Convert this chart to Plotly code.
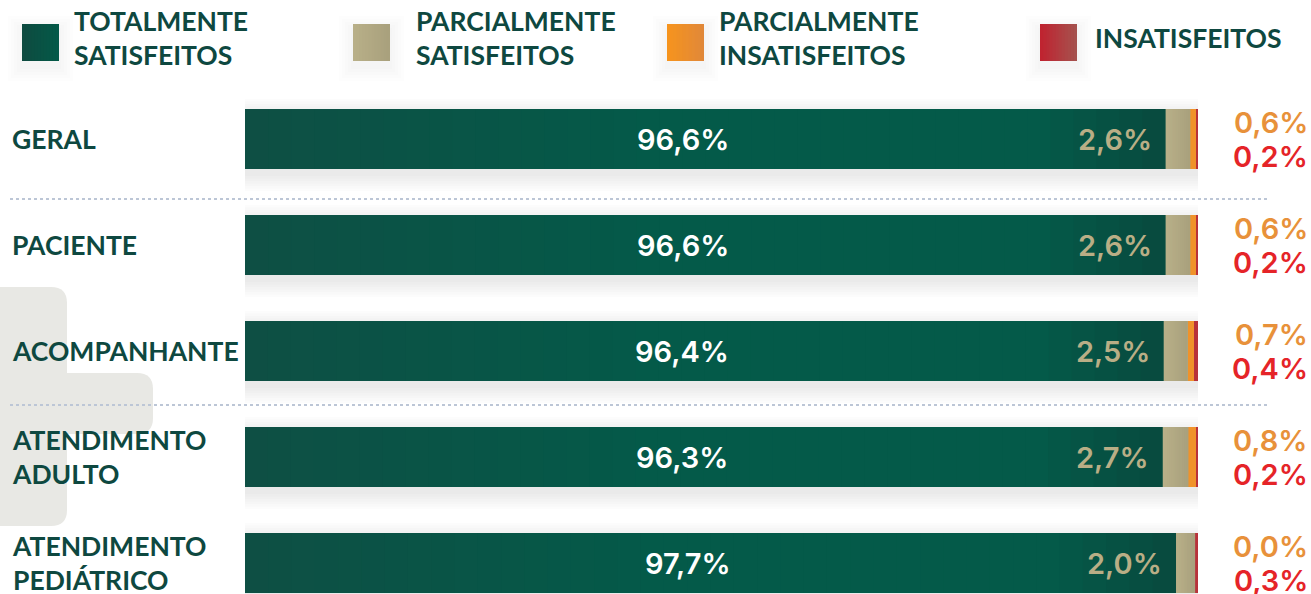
import plotly.graph_objects as go

categories = ["GERAL", "PACIENTE", "ACOMPANHANTE", "ATENDIMENTO<br>ADULTO", "ATENDIMENTO<br>PEDIÁTRICO"]
totalmente = [96.6, 96.6, 96.4, 96.3, 97.7]
parcial_sat = [2.6, 2.6, 2.5, 2.7, 2.0]
parcial_insat = [0.6, 0.6, 0.7, 0.8, 0.0]
insatisfeitos = [0.2, 0.2, 0.4, 0.2, 0.3]
legend_labels = ["TOTALMENTE<br>SATISFEITOS", "PARCIALMENTE<br>SATISFEITOS",
                 "PARCIALMENTE<br>INSATISFEITOS", "INSATISFEITOS"]

W, H = 1311, 594
X0, X1 = 245, 1198
ROW0, STEP = 139, 106
BAR_H = 60

C_GREEN = "#075546"
C_TAN = "#b1a882"
C_ORANGE = "#f0922a"
C_RED = "#b8323a"
TXT = "#0e4840"

G_GREEN = [(0, (14, 79, 68)), (0.45, (4, 90, 73)), (0.86, (4, 90, 73)), (1, (8, 74, 62))]
G_GREEN_LEG = [(0, (14, 74, 64)), (1, (4, 90, 72))]
G_TAN = [(0, (185, 176, 137)), (1, (168, 160, 124))]
G_ORANGE = [(0, (247, 148, 29)), (1, (224, 136, 58))]
G_RED = [(0, (192, 34, 47)), (1, (165, 83, 79))]

def fmt(v):
    return f"{v:.1f}".replace(".", ",") + "%"

def interp(stops, t):
    for (t0, c0), (t1, c1) in zip(stops[:-1], stops[1:]):
        if t0 <= t <= t1:
            f = 0 if t1 == t0 else (t - t0) / (t1 - t0)
            return "rgb(%d,%d,%d)" % tuple(round(a + (b - a) * f) for a, b in zip(c0, c1))
    return "rgb(%d,%d,%d)" % stops[-1][1]

def grad_rect(x0, x1, y0, y1, stops, n, xref, yref, layer="above"):
    out = []
    dx = (x1 - x0) / n
    for k in range(n):
        a = x0 + k * dx
        b = x0 + (k + 1) * dx
        out.append(dict(type="rect", xref=xref, yref=yref, x0=a, x1=min(b + dx * 0.6, x1),
                        y0=y0, y1=y1, fillcolor=interp(stops, (k + 0.5) / n),
                        line=dict(width=0), layer=layer))
    return out

pos = list(range(len(categories)))
bw = BAR_H / STEP

fig = go.Figure()
series = [(totalmente, C_GREEN), (parcial_sat, C_TAN), (parcial_insat, C_ORANGE), (insatisfeitos, C_RED)]
for vals, col in series:
    fig.add_trace(go.Bar(x=vals, y=pos, orientation="h", width=bw,
                         marker=dict(color=col, line=dict(width=0)),
                         hoverinfo="skip", showlegend=False))

shapes = []
def rrect(x0, y0, x1, y1, rx, ry):
    return (f"M{x0+rx},{y0} L{x1-rx},{y0} Q{x1},{y0} {x1},{y0+ry} L{x1},{y1-ry} Q{x1},{y1} {x1-rx},{y1} "
            f"L{x0+rx},{y1} Q{x0},{y1} {x0},{y1-ry} L{x0},{y0+ry} Q{x0},{y0} {x0+rx},{y0} Z")
def px2paper(x, y):
    return x / W, 1 - y / H
for (a, b, c, d) in [(-20, 287, 67, 526), (-20, 373, 153, 434)]:
    xa, ya = px2paper(a, b)
    xb, yb = px2paper(c, d)
    shapes.append(dict(type="path", xref="paper", yref="paper",
                       path=rrect(xa, yb, xb, ya, 16 / W, 16 / H),
                       fillcolor="#e8e8e4", line=dict(width=0), layer="below"))

# soft bar shadows
sx = 100 / (X1 - X0)
sy = 1 / STEP
for i in pos:
    for k in range(7):
        e = 1 + k * 2.5
        shapes.append(dict(type="rect", xref="x", yref="y",
                           x0=-e * sx, x1=100 + e * sx,
                           y0=i - bw / 2 - e * sy + 6 * sy, y1=i + bw / 2 + e * sy + 6 * sy,
                           fillcolor="rgba(40,50,60,0.016)", line=dict(width=0), layer="below"))
    # gradient fills over the stacked segments
    y0, y1 = i - bw / 2, i + bw / 2
    g = totalmente[i]
    shapes += grad_rect(0, g, y0, y1, G_GREEN, 40, "x", "y")
    shapes += grad_rect(g, g + parcial_sat[i], y0, y1, G_TAN, 12, "x", "y")

# separator lines (pixel rows)
for sep_px in [199, 405]:
    yy = 1 - sep_px / H
    shapes.append(dict(type="line", xref="paper", yref="paper", x0=10 / W, x1=1268 / W,
                       y0=yy, y1=yy, line=dict(color="#bcc6d6", width=2, dash="dot"), layer="below"))

annotations = []
num_font = "Inter, Montserrat, Open Sans, sans-serif"
lab_font = "Lato, sans-serif"
for i in pos:
    annotations.append(dict(x=10 / W, xref="paper", y=i, yref="y", text=f"<b>{categories[i]}</b>",
                            xanchor="left", yanchor="middle", align="left", showarrow=False,
                            font=dict(family=lab_font, size=26.5, color=TXT, weight=900)))
    annotations.append(dict(x=totalmente[i] * 0.476, y=i, text=fmt(totalmente[i]), showarrow=False,
                            xanchor="center", yanchor="middle",
                            font=dict(family=num_font, size=29, color="white", weight=600)))
    annotations.append(dict(x=totalmente[i], y=i, text=fmt(parcial_sat[i]), showarrow=False,
                            xanchor="right", yanchor="middle", xshift=-12,
                            font=dict(family=num_font, size=29, color="#b9ae86", weight=600)))
    annotations.append(dict(x=1310 / W, xref="paper", y=i, yref="y", text=fmt(parcial_insat[i]),
                            showarrow=False, xanchor="right", yanchor="middle", yshift=17,
                            font=dict(family=num_font, size=29, color="#e8913a", weight=600)))
    annotations.append(dict(x=1310 / W, xref="paper", y=i, yref="y", text=fmt(insatisfeitos[i]),
                            showarrow=False, xanchor="right", yanchor="middle", yshift=-17,
                            font=dict(family=num_font, size=29, color="#e52428", weight=600)))

# legend
leg_sq = [22, 353, 667, 1040]
leg_txt = [72, 414, 717, 1093]
leg_grad = [G_GREEN_LEG, G_TAN, G_ORANGE, G_RED]
for j, lab in enumerate(legend_labels):
    for k in range(5):
        e = 2 + k * 3
        xa, ya = px2paper(leg_sq[j] - e, 24 - e + 6)
        xb, yb = px2paper(leg_sq[j] + 37 + e, 61 + e + 6)
        shapes.append(dict(type="rect", xref="paper", yref="paper", x0=xa, x1=xb, y0=yb, y1=ya,
                           fillcolor="rgba(40,50,60,0.007)", line=dict(width=0), layer="below"))
    xa, ya = px2paper(leg_sq[j], 24)
    xb, yb = px2paper(leg_sq[j] + 37, 61)
    shapes += grad_rect(xa, xb, yb, ya, leg_grad[j], 12, "paper", "paper")
    annotations.append(dict(x=leg_txt[j] / W, xref="paper", y=1 - 38 / H, yref="paper",
                            text=f"<b>{lab}</b>", showarrow=False, xanchor="left", yanchor="middle",
                            align="left",
                            font=dict(family=lab_font, size=26.5, color=TXT, weight=900)))

fig.update_layout(
    width=W, height=H, margin=dict(l=0, r=0, t=0, b=0),
    paper_bgcolor="white", plot_bgcolor="rgba(0,0,0,0)",
    barmode="stack", bargap=0,
    xaxis=dict(domain=[X0 / W, X1 / W], range=[0, 100], visible=False, fixedrange=True),
    yaxis=dict(domain=[0, 1], range=[(H - ROW0) / STEP, -ROW0 / STEP], visible=False, fixedrange=True),
    shapes=shapes, annotations=annotations, showlegend=False,
)
fig.write_html("out.html", config={"displayModeBar": False},
               post_script="document.body.style.margin='0';document.body.style.overflow='hidden';")
